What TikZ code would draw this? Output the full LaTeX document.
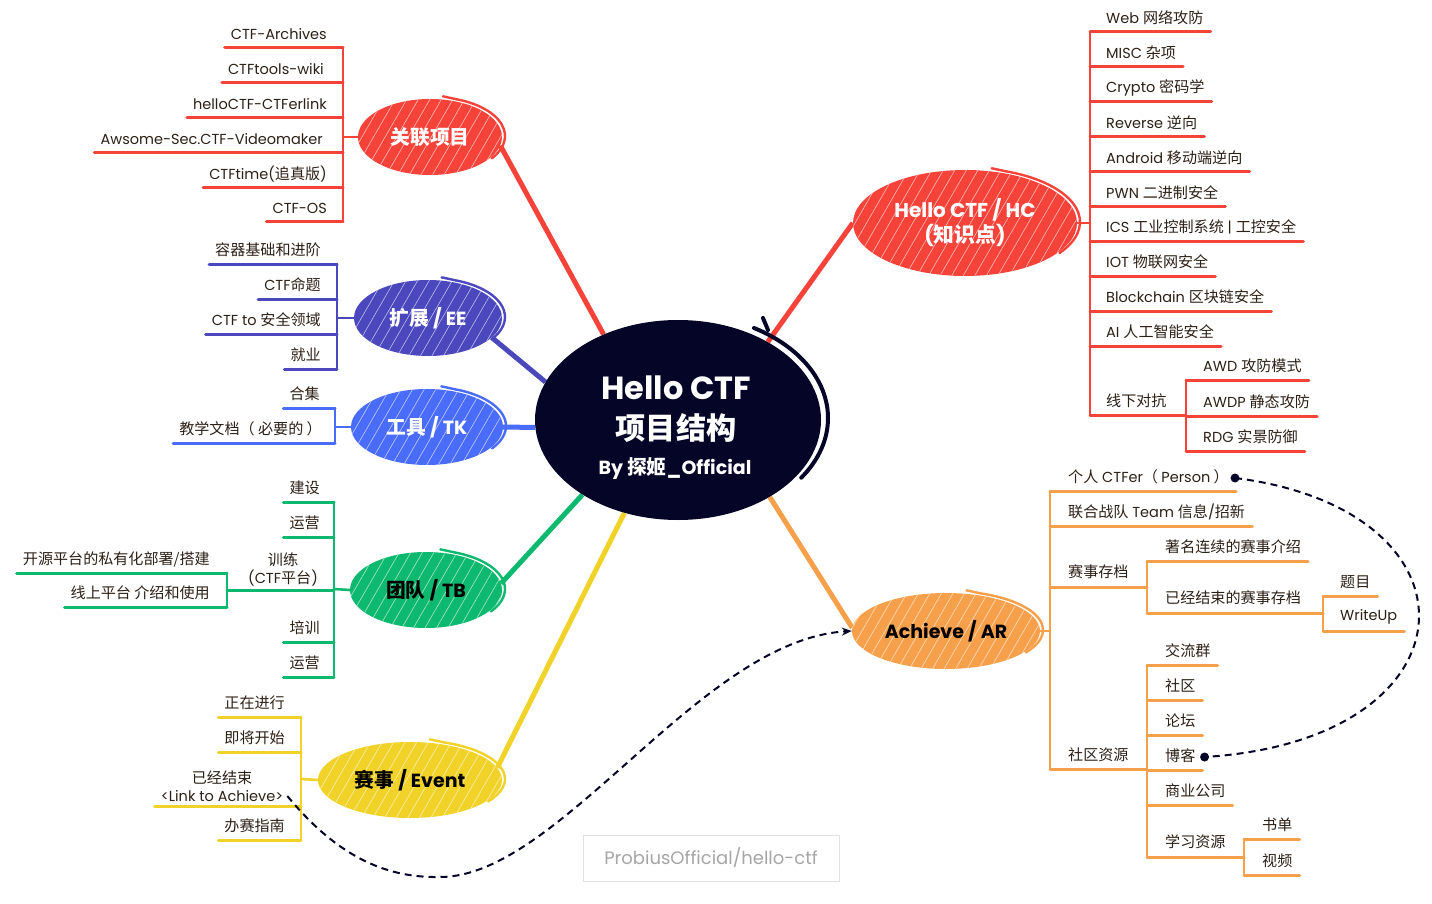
\documentclass[tikz,border=0pt]{standalone}
\usepackage{fontspec}
\setmainfont{Poppins}
\newfontfamily\zhfont[Scale=1.04]{Noto Sans CJK SC}
\newcommand\zh[1]{{\zhfont #1}}
\usetikzlibrary{shapes.geometric,calc,patterns.meta,arrows.meta}
\definecolor{cred}{RGB}{245,67,58}
\definecolor{cee}{RGB}{75,72,190}
\definecolor{ctk}{RGB}{74,108,250}
\definecolor{ctb}{RGB}{12,185,110}
\definecolor{cev}{RGB}{240,210,40}
\definecolor{car}{RGB}{246,160,75}
\definecolor{cnavy}{RGB}{5,5,40}
\definecolor{leafc}{RGB}{45,32,22}
\pgfdeclarelayer{bg}
\pgfsetlayers{bg,main}
\tikzset{
  leaf/.style={font=\fontsize{14.5}{18}\selectfont, text=leafc, inner sep=0pt},
  uline/.style={draw=#1, line width=3pt, line cap=round},
  brk/.style={draw=#1, line width=2.6pt, line cap=round},
  conn/.style={draw=#1, line width=5pt},
  mainnode/.style 2 args={ellipse, fill=#1, inner sep=0pt, text=#2,
    font=\fontsize{19}{22}\selectfont\bfseries,
    postaction={pattern={Lines[angle=60,distance=10pt,line width=0.6pt]}, pattern color=white!65!#1}},
  sketchline/.style={draw=#1, line width=2.4pt, line cap=round},
  dashlink/.style={draw=cnavy, line width=2pt, dash pattern=on 7pt off 5pt},
  srcbox/.style={draw=black!12, line width=1pt, text=black!35, font=\fontsize{18}{22}\selectfont, inner sep=0pt},
  centertext/.style={text=white, inner sep=0pt, font=\bfseries}
}
% left leaf: name, color, text right x, underline y, bracket x, text
\newcommand\lleaf[6]{%
  \node[leaf, anchor=east] (#1) at (#3,#4-14) {#6};
  \draw[uline=#2] ($(#1.west)+(-6,14)$) -- (#5,#4);
}
% right leaf: name, color, text left x, underline y, bracket x, text
\newcommand\rleaf[6]{%
  \node[leaf, anchor=west] (#1) at (#3,#4-14) {#6};
  \draw[uline=#2] (#5,#4) -- ($(#1.east)+(7,14)$);
}
% sketch arc on a main node: node, color, rx, ry, start angle, end angle
\newcommand\sketcharc[6]{%
  \draw[sketchline=#2] ($(#1.center)+({#3*cos(#5)+2},{-#4*sin(#5)-1})$) arc[start angle=#5, end angle=#6, x radius=#3pt, y radius=#4pt];
  \draw[sketchline=#2] ($(#1.center)+({#3*cos(#5)+2},{-#4*sin(#5)-1})$) -- ++(-14,-3);
}
\begin{document}
\begin{tikzpicture}[x=1pt,y=-1pt]
\useasboundingbox (0,0) rectangle (1432,904);
\begin{pgfonlayer}{bg}
\fill[white] (0,0) rectangle (1432,904);
\end{pgfonlayer}

% ---------- main nodes ----------
\node[mainnode={cred}{white}, minimum width=144pt, minimum height=76pt] (rel) at (430,137) {\zh{关联项目}};
\node[mainnode={cee}{white}, minimum width=148pt, minimum height=76pt] (ee) at (428,318) {\zh{扩展} / EE};
\node[mainnode={ctk}{white}, minimum width=152pt, minimum height=76pt] (tk) at (427,427) {\zh{工具} / TK};
\node[mainnode={ctb}{black}, minimum width=152pt, minimum height=76pt] (tb) at (426,590) {\zh{团队} / TB};
\node[mainnode={cev}{black}, minimum width=184pt, minimum height=76pt] (ev) at (410,780) {\zh{赛事} / Event};
\node[mainnode={cred}{white}, minimum width=224pt, minimum height=106pt, align=center, font=\fontsize{20}{25}\selectfont\bfseries] (hc) at (965,223) {Hello CTF / HC\\(\zh{知识点})};
\node[mainnode={car}{black}, minimum width=188pt, minimum height=76pt, font=\fontsize{19}{22}\selectfont\bfseries] (ar) at (946,631) {Achieve / AR};

\sketcharc{rel}{cred}{73}{39}{70}{-35}
\sketcharc{ee}{cee}{75}{39}{70}{-35}
\sketcharc{tk}{ctk}{77}{39}{70}{-35}
\sketcharc{tb}{ctb}{77}{39}{70}{-35}
\sketcharc{ev}{cev}{93}{39}{70}{-35}
\sketcharc{hc}{cred}{113}{54}{70}{-35}
\sketcharc{ar}{car}{95}{39}{70}{-35}

% ---------- center ----------
\node[ellipse, fill=cnavy, minimum width=286pt, minimum height=200pt, inner sep=0pt] (center) at (678,420) {};
\draw[cnavy, line width=4pt, line cap=round] (754,328) arc[start angle=60, end angle=-35, x radius=148pt, y radius=104pt];
\draw[cnavy, line width=4pt, line cap=round] (763,318) -- (768,330);
\node[centertext, font=\fontsize{32}{36}\selectfont\bfseries] (ct1) at (676,388) {Hello CTF};
\node[centertext, font=\fontsize{29}{34}\selectfont\bfseries] (ct2) at (676,428) {\zh{项目结构}};
\node[centertext, font=\fontsize{19}{22}\selectfont\bfseries] (ct3) at (675,469) {By \zh{探姬}\_Official};

% ---------- connectors ----------
\begin{pgfonlayer}{bg}
\draw[conn=cred] (rel.-7) -- (center.131);
\draw[conn=cee] (ee.-17) -- (center.164);
\draw[conn=ctk] (tk.east) -- (center.183);
\draw[conn=ctb] (tb.5) -- (center.218);
\draw[conn=cev] (ev.8) -- (center.240);
\draw[conn=cred] (hc.west) -- (center.41);
\draw[conn=car] (ar.178) -- (center.-40);
\end{pgfonlayer}

% ---------- 关联项目 ----------
\lleaf{r1}{cred}{327}{48}{343}{CTF-Archives}
\lleaf{r2}{cred}{324}{83}{343}{CTFtools-wiki}
\lleaf{r3}{cred}{327}{118}{343}{helloCTF-CTFerlink}
\lleaf{r4}{cred}{323}{153}{343}{Awsome-Sec.CTF-Videomaker}
\lleaf{r5}{cred}{327}{188}{343}{CTFtime(\zh{追真版})}
\lleaf{r6}{cred}{327}{222}{343}{CTF-OS}
\draw[brk=cred] (343,48) -- (343,222);
\draw[brk=cred] (rel.west) -- (343,137);

% ---------- 扩展 ----------
\lleaf{e1}{cee}{321}{264}{337}{\zh{容器基础和进阶}}
\lleaf{e2}{cee}{321}{299}{337}{CTF\zh{命题}}
\lleaf{e3}{cee}{321}{334}{337}{CTF to \zh{安全领域}}
\lleaf{e4}{cee}{321}{369}{337}{\zh{就业}}
\draw[brk=cee] (337,264) -- (337,369);
\draw[brk=cee] (ee.west) -- (337,318);

% ---------- 工具 ----------
\lleaf{t1}{ctk}{320}{408}{335}{\zh{合集}}
\lleaf{t2}{ctk}{322}{443}{335}{\zh{教学文档（ 必要的 ）}}
\draw[brk=ctk] (335,408) -- (335,443);
\draw[brk=ctk] (tk.west) -- (335,427);

% ---------- 团队 ----------
\lleaf{g1}{ctb}{320}{502}{334}{\zh{建设}}
\lleaf{g2}{ctb}{320}{537}{334}{\zh{运营}}
\node[leaf, align=center, anchor=south] (g3) at (283,586) {\zh{训练}\\(CTF\zh{平台})};
\draw[uline=ctb] (227,590) -- (334,590);
\lleaf{g4}{ctb}{320}{642}{334}{\zh{培训}}
\lleaf{g5}{ctb}{320}{677}{334}{\zh{运营}}
\draw[brk=ctb] (334,502) -- (334,677);
\draw[brk=ctb] (tb.west) -- (334,589);
\lleaf{g3a}{ctb}{210}{573}{227}{\zh{开源平台的私有化部署/搭建}}
\lleaf{g3b}{ctb}{210}{607}{227}{\zh{线上平台 介绍和使用}}
\draw[brk=ctb] (227,573) -- (227,607);

% ---------- 赛事 ----------
\lleaf{v1}{cev}{285}{717}{301}{\zh{正在进行}}
\lleaf{v2}{cev}{285}{752}{301}{\zh{即将开始}}
\node[leaf, align=center, anchor=south] (v3) at (222,802) {\zh{已经结束}\\<Link to Achieve>};
\draw[uline=cev] ($(v3.south west)+(-6,4)$) -- (301,806);
\lleaf{v4}{cev}{285}{840}{301}{\zh{办赛指南}}
\draw[brk=cev] (301,717) -- (301,840);
\draw[brk=cev] (ev.west) -- (301,779);

% ---------- Hello CTF / HC ----------
\rleaf{h1}{cred}{1106}{32}{1090}{Web \zh{网络攻防}}
\rleaf{h2}{cred}{1106}{67}{1090}{MISC \zh{杂项}}
\rleaf{h3}{cred}{1106}{102}{1090}{Crypto \zh{密码学}}
\rleaf{h4}{cred}{1106}{137}{1090}{Reverse \zh{逆向}}
\rleaf{h5}{cred}{1106}{172}{1090}{Android \zh{移动端逆向}}
\rleaf{h6}{cred}{1106}{207}{1090}{PWN \zh{二进制安全}}
\rleaf{h7}{cred}{1106}{241}{1090}{ICS \zh{工业控制系统} | \zh{工控安全}}
\rleaf{h8}{cred}{1106}{276}{1090}{IOT \zh{物联网安全}}
\rleaf{h9}{cred}{1106}{311}{1090}{Blockchain \zh{区块链安全}}
\rleaf{h10}{cred}{1106}{346}{1090}{AI \zh{人工智能安全}}
\node[leaf, anchor=west] (h11) at (1106,401) {\zh{线下对抗}};
\draw[uline=cred] (1090,415) -- (1186,415);
\draw[brk=cred] (1090,32) -- (1090,415);
\draw[brk=cred] (hc.east) -- (1090,223);
\rleaf{a1}{cred}{1203}{380}{1186}{AWD \zh{攻防模式}}
\rleaf{a2}{cred}{1203}{416}{1186}{AWDP \zh{静态攻防}}
\rleaf{a3}{cred}{1203}{451}{1186}{RDG \zh{实景防御}}
\draw[brk=cred] (1186,380) -- (1186,451);

% ---------- Achieve / AR ----------
\rleaf{p1}{car}{1068}{491}{1050}{\zh{个人} CTFer\zh{（ }Person\zh{ ）}}
\rleaf{p2}{car}{1068}{526}{1050}{\zh{联合战队} Team \zh{信息}/\zh{招新}}
\node[leaf, anchor=west] (p3) at (1068,572) {\zh{赛事存档}};
\draw[uline=car] (1050,587) -- (1147,587);
\rleaf{p3a}{car}{1165}{561}{1147}{\zh{著名连续的赛事介绍}}
\node[leaf, anchor=west] (p3b) at (1165,598) {\zh{已经结束的赛事存档}};
\draw[uline=car] (1147,613) -- (1323,613);
\draw[brk=car] (1147,561) -- (1147,613);
\rleaf{p3b1}{car}{1340}{596}{1323}{\zh{题目}}
\rleaf{p3b2}{car}{1340}{631}{1323}{WriteUp}
\draw[brk=car] (1323,596) -- (1323,631);
\node[leaf, anchor=west] (p4) at (1068,755) {\zh{社区资源}};
\draw[uline=car] (1050,769) -- (1147,769);
\rleaf{c1}{car}{1165}{665}{1147}{\zh{交流群}}
\rleaf{c2}{car}{1165}{700}{1147}{\zh{社区}}
\rleaf{c3}{car}{1165}{735}{1147}{\zh{论坛}}
\rleaf{c4}{car}{1165}{770}{1147}{\zh{博客}}
\rleaf{c5}{car}{1165}{805}{1147}{\zh{商业公司}}
\node[leaf, anchor=west] (c6) at (1165,842) {\zh{学习资源}};
\draw[uline=car] (1147,857) -- (1244,857);
\draw[brk=car] (1147,665) -- (1147,857);
\rleaf{s1}{car}{1262}{839}{1244}{\zh{书单}}
\rleaf{s2}{car}{1262}{875}{1244}{\zh{视频}}
\draw[brk=car] (1244,839) -- (1244,875);
\draw[brk=car] (1050,491) -- (1050,769);
\draw[brk=car] (ar.east) -- (1050,631);

% ---------- dashed links ----------
\coordinate (dotA) at ($(p1.east)+(6,1)$);
\coordinate (dotB) at ($(c4.east)+(9,1)$);
\draw[dashlink] (dotA) .. controls (1490,510) and (1480,740) .. (dotB);
\fill[cnavy] (dotA) circle (4.5pt);
\fill[cnavy] (dotB) circle (4.5pt);
\draw[dashlink, -{Stealth[length=10pt,width=8pt]}] ($(v3.south east)+(4,-6)$) .. controls (340,860) and (390,878) .. (440,877) .. controls (560,877) and (700,640) .. (ar.west);

% ---------- source ----------
\node[srcbox, minimum width=256pt, minimum height=46pt] (src) at (711,858) {ProbiusOfficial/hello-ctf};
\end{tikzpicture}
\end{document}
